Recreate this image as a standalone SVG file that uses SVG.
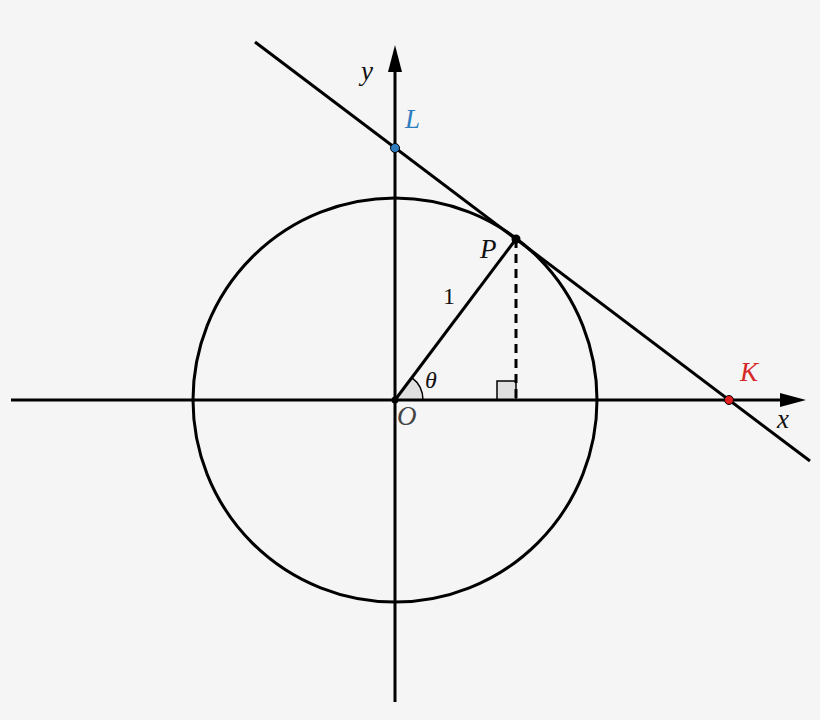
<svg xmlns="http://www.w3.org/2000/svg" width="820" height="720" viewBox="0 0 820 720">
<style>
.ln{stroke:#000;stroke-width:3;fill:none}
.lbl{font-family:"Liberation Serif","DejaVu Serif",serif;font-style:italic;font-size:27px;fill:#111}
.num{font-family:"Liberation Serif","DejaVu Serif",serif;font-size:24px;fill:#111}
</style>
<rect width="820" height="720" fill="#f5f5f5"/>
<g id="angle">
<path d="M395,400 L423,400 A28,28 0 0 0 411.8,377.6 Z" fill="#e0e0e0" stroke="none"/>
<path d="M423,400 A28,28 0 0 0 411.8,377.6" stroke="#000" stroke-width="1.5" fill="none"/>
</g>
<g id="rightangle">
<rect x="497" y="381" width="19" height="19" fill="#e0e0e0" stroke="#000" stroke-width="1.5"/>
</g>
<g id="connectors">
<line class="ln" x1="11" y1="400" x2="780" y2="400"/>
<path d="M806,400 L780,393 L780,407 Z" fill="#000"/>
<line class="ln" x1="395" y1="702" x2="395" y2="72"/>
<path d="M395,45 L388,72 L402,72 Z" fill="#000"/>
<circle class="ln" cx="395" cy="400" r="202"/>
<line class="ln" x1="395" y1="400" x2="516" y2="239"/>
<line class="ln" x1="516" y1="239" x2="516" y2="400" stroke-dasharray="9,6"/>
<line class="ln" x1="255" y1="42" x2="810" y2="461"/>
</g>
<g id="O"><circle cx="395" cy="400" r="3.5" fill="#000"/><text class="lbl" x="397" y="425" style="fill:#444">O</text></g>
<g id="P"><circle cx="516" cy="239" r="4.5" fill="#000"/><text class="lbl" x="480" y="258">P</text></g>
<g id="L"><circle cx="395" cy="148" r="4.5" fill="#2f7dc0" stroke="#000" stroke-width="1"/><text class="lbl" x="405" y="128" style="fill:#2f7dc0">L</text></g>
<g id="K"><circle cx="729" cy="400" r="4.5" fill="#e02020" stroke="#000" stroke-width="1"/><text class="lbl" x="740" y="381" style="fill:#d62728">K</text></g>
<text class="lbl" x="361" y="80">y</text>
<text class="lbl" x="777" y="428">x</text>
<text class="lbl" x="425" y="388" style="font-size:24px">θ</text>
<text class="num" x="443" y="304">1</text>
</svg>
